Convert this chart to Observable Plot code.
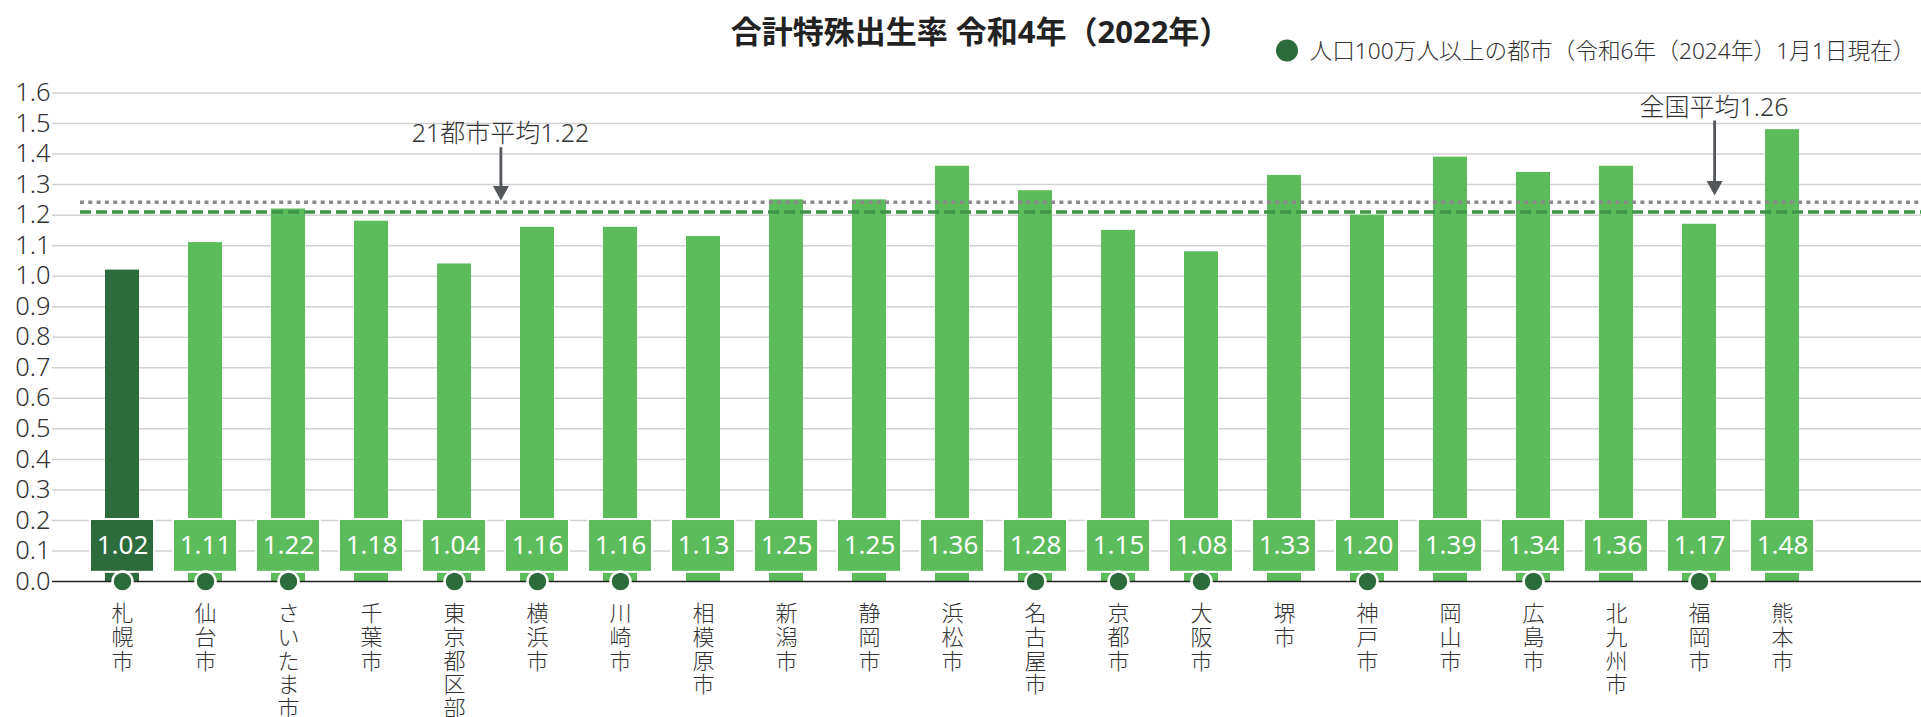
<!DOCTYPE html>
<html lang="ja">
<head>
<meta charset="utf-8">
<script src="https://cdn.jsdelivr.net/npm/d3@7"></script>
<script src="https://cdn.jsdelivr.net/npm/@observablehq/plot@0.6"></script>
<style>
  html, body { margin: 0; padding: 0; background: #fff; }
  #chart { width: 1921px; height: 717px; }
</style>
</head>
<body>
<div id="chart"></div>
<script>
// ---- data ----
const titleText = "合計特殊出生率 令和4年（2022年）";
const legendText = "人口100万人以上の都市（令和6年（2024年）1月1日現在）";
const cities = ["札幌市","仙台市","さいたま市","千葉市","東京都区部","横浜市","川崎市","相模原市","新潟市","静岡市","浜松市","名古屋市","京都市","大阪市","堺市","神戸市","岡山市","広島市","北九州市","福岡市","熊本市"];
const rates = [1.02,1.11,1.22,1.18,1.04,1.16,1.16,1.13,1.25,1.25,1.36,1.28,1.15,1.08,1.33,1.20,1.39,1.34,1.36,1.17,1.48];
const millionCities = ["札幌市","仙台市","さいたま市","東京都区部","横浜市","川崎市","名古屋市","京都市","大阪市","神戸市","広島市","福岡市"];
const highlighted = ["札幌市"];
const yTicks = [0,0.1,0.2,0.3,0.4,0.5,0.6,0.7,0.8,0.9,1.0,1.1,1.2,1.3,1.4,1.5,1.6];
const averageLabels = ["21都市平均1.22","全国平均1.26"];
const averageLines = [1.21, 1.242]; // 21-city avg (dashed), national avg (dotted), as drawn
const annotationCities = ["東京都区部","福岡市"];

// ---- styles ----
const DARK = "#2c6b3c";
const LIGHT = "#5cbb5a";
const FONT = "'Noto Sans', 'Noto Sans CJK JP', sans-serif";

const data = cities.map((c, i) => ({city: c, rate: rates[i], hi: highlighted.includes(c)}));

function arrowSymbol(len) {
  return {
    draw(ctx) {
      ctx.moveTo(0, 0);
      ctx.lineTo(-8, -14.5);
      ctx.lineTo(-1.4, -14.5);
      ctx.lineTo(-1.4, -len);
      ctx.lineTo(1.4, -len);
      ctx.lineTo(1.4, -14.5);
      ctx.lineTo(8, -14.5);
      ctx.closePath();
    }
  };
}

const plot = Plot.plot({
  width: 1921,
  height: 717,
  marginLeft: 52,
  marginRight: 0,
  marginTop: 92.5,
  marginBottom: 136,
  style: {fontFamily: FONT, background: "#fff", overflow: "visible"},
  x: {domain: cities, range: [47.2, 1857], paddingInner: 0.594, paddingOuter: 0.594, axis: null},
  y: {domain: [0, 1.6], axis: null},
  marks: [
    // grid
    Plot.ruleY(yTicks.filter(d => d > 0), {stroke: "#d2d2d2", strokeWidth: 1.5}),
    // y tick labels
    Plot.axisY(yTicks, {tickSize: 0, tickPadding: 2, tickFormat: d3.format(".1f"), fontSize: 25.5,
      fontWeight: 300, fill: "#333", label: null}),
    // bars
    Plot.barY(data, {x: "city", y: "rate", fill: d => d.hi ? DARK : LIGHT}),
    // value boxes
    Plot.barY(data, {x: "city", y1: 0.03, y2: 0.203, fill: d => d.hi ? DARK : LIGHT,
      stroke: "#ffffff", strokeWidth: 2, insetLeft: -15, insetRight: -15}),
    Plot.text(data, {x: "city", y: 0.1165, text: d => d3.format(".2f")(d.rate),
      fill: "#fff", fontSize: 26}),
    // x axis line
    Plot.ruleY([0], {stroke: "#222", strokeWidth: 1.5}),
    // average lines
    Plot.ruleY([averageLines[1]], {stroke: "#8a8a8a", strokeWidth: 3.5, strokeDasharray: "4 4.3", insetLeft: 28}),
    Plot.ruleY([averageLines[0]], {stroke: "#3f9448", strokeWidth: 3.5, strokeDasharray: "11 5", insetLeft: 28}),
    // million+ markers
    Plot.dot(millionCities, {x: d => d, y: 0, r: 10, fill: DARK, stroke: "#fff", strokeWidth: 2.5}),
    // city labels (vertical)
    Plot.text(cities, {x: d => d, y: 0, text: d => [...d].join("\n"), lineAnchor: "top",
      dy: 23, fontSize: 22, fontWeight: 300, lineHeight: 1.077, fill: "#333"}),
    // annotations
    Plot.dot([annotationCities[0]], {x: d => d, y: averageLines[1], dx: 46.4, dy: -1.8,
      symbol: arrowSymbol(53.3), fill: "#53565b", stroke: "none", r: 5}),
    Plot.text([averageLabels[0]], {x: () => annotationCities[0], y: averageLines[1], dx: 46, dy: -60.1,
      text: d => d, lineAnchor: "bottom", fontSize: 25, fontWeight: 300, fill: "#333"}),
    Plot.dot([annotationCities[1]], {x: d => d, y: averageLines[1], dx: 15.1, dy: -6.8,
      symbol: arrowSymbol(75), fill: "#53565b", stroke: "none", r: 5}),
    Plot.text([averageLabels[1]], {x: () => annotationCities[1], y: averageLines[1], dx: 14.5, dy: -86.8,
      text: d => d, lineAnchor: "bottom", fontSize: 25, fontWeight: 300, fill: "#333"}),
    // title
    Plot.text([titleText], {frameAnchor: "top-left", dx: 928, dy: -50.5, text: d => d,
      textAnchor: "middle", lineAnchor: "bottom", fontSize: 31, fontWeight: "bold", fill: "#222"}),
    // legend
    Plot.dot([legendText], {frameAnchor: "top-left", dx: 1234.5, dy: -42.5, r: 11, fill: DARK, stroke: "none"}),
    Plot.text([legendText], {frameAnchor: "top-left", dx: 1257, dy: -34.2, text: d => d,
      textAnchor: "start", lineAnchor: "bottom", fontSize: 22.7, fontWeight: 300, fill: "#333"})
  ]
});
document.getElementById("chart").appendChild(plot);
</script>
</body>
</html>
